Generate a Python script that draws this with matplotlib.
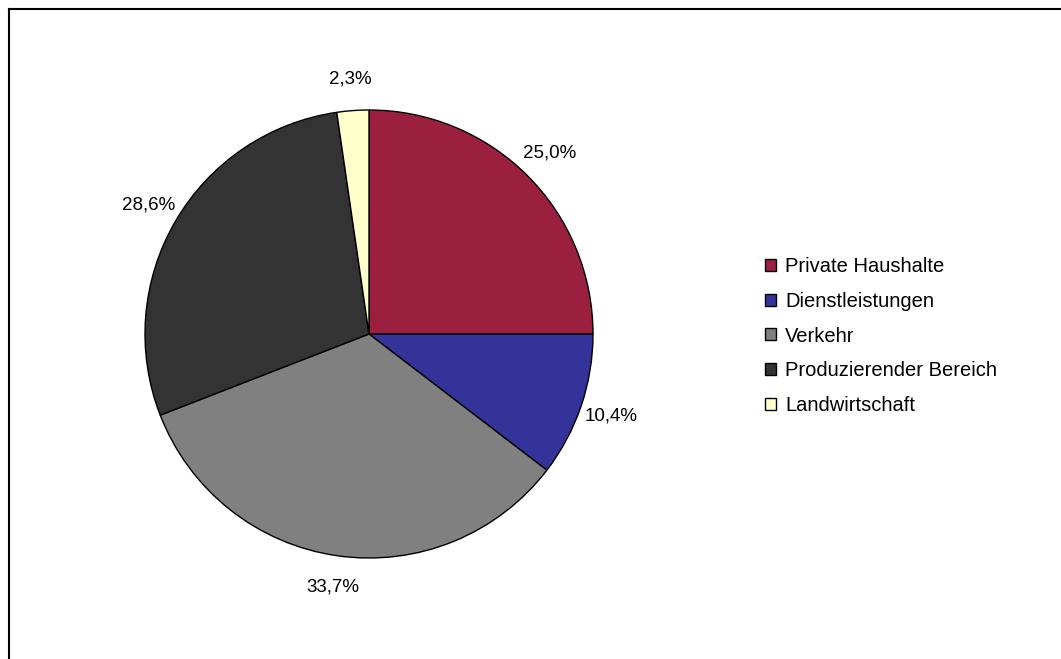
import matplotlib
matplotlib.use("Agg")
import matplotlib.pyplot as plt
from matplotlib.lines import Line2D

plt.rcParams['font.family'] = ['Liberation Sans', 'DejaVu Sans']

# Anteile am Energieverbrauch nach Sektoren (%)
sektoren = ["Private Haushalte", "Dienstleistungen", "Verkehr",
            "Produzierender Bereich", "Landwirtschaft"]
anteile = [25.0, 10.4, 33.7, 28.6, 2.3]
farben = ["#9b2040", "#333399", "#808080", "#333333", "#ffffcc"]

W, H = 1061, 659
fig = plt.figure(figsize=(W / 100, H / 100), dpi=100)
fig.patch.set_facecolor("white")

# Kreis: Mittelpunkt (369, 334) px, Radius 224 px
cx, cy, r = 369, 334, 224
ax = fig.add_axes([(cx - r) / W, (H - cy - r) / H, 2 * r / W, 2 * r / H])

def fmt(p):
    return f"{p:.1f}%".replace(".", ",")

wedges, _, autotexts = ax.pie(
    anteile, colors=farben, startangle=90, counterclock=False,
    autopct=fmt, pctdistance=1.14, labels=None,
    wedgeprops=dict(edgecolor="black", linewidth=1.0),
    textprops=dict(fontsize=13.5, color="black"),
)
ax.set_xlim(-1, 1)
ax.set_ylim(-1, 1)
ax.set_aspect("equal")
ax.axis("off")

fig.legend(
    wedges, sektoren, loc="center left",
    bbox_to_anchor=(765 / W, 1 - 336 / H),
    frameon=False, fontsize=14.5, borderpad=0, borderaxespad=0,
    handlelength=0.55, handleheight=0.55, handletextpad=0.45,
    labelspacing=0.78,
)

# Rahmen oben und links
lw = 1.5
fig.add_artist(Line2D([8.5 / W, 8.5 / W], [0, 1 - 8.5 / H], color="black",
                      linewidth=lw, transform=fig.transFigure))
fig.add_artist(Line2D([8.5 / W, 1], [1 - 8.5 / H, 1 - 8.5 / H], color="black",
                      linewidth=lw, transform=fig.transFigure))

fig.savefig("out.png", dpi=100, facecolor="white")
